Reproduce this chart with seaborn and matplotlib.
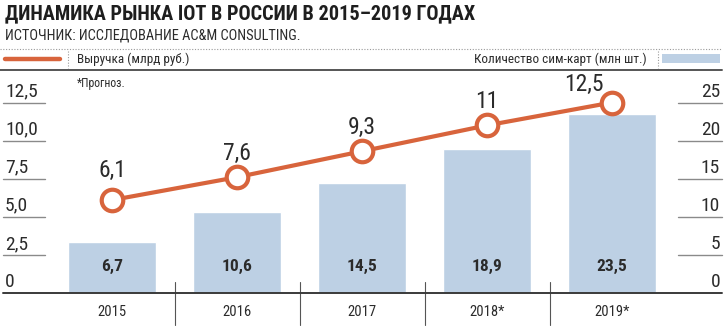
import matplotlib
matplotlib.use("Agg")
import matplotlib.pyplot as plt
import matplotlib.font_manager as fm
import seaborn as sns
import numpy as np
from matplotlib.lines import Line2D
from matplotlib.patches import Rectangle

sns.set_theme(style="white")

names = {f.name for f in fm.fontManager.ttflist}
fams = [f for f in ["Liberation Sans Narrow", "DejaVu Sans Condensed", "Roboto Condensed", "Liberation Sans", "DejaVu Sans"] if f in names]
plt.rcParams['font.family'] = fams

# ---- data ----
years = ["2015", "2016", "2017", "2018*", "2019*"]
revenue = [6.1, 7.6, 9.3, 11, 12.5]
revenue_labels = ["6,1", "7,6", "9,3", "11", "12,5"]
sims = [6.7, 10.6, 14.5, 18.9, 23.5]
sim_labels = ["6,7", "10,6", "14,5", "18,9", "23,5"]
left_ticks = [0, 2.5, 5.0, 7.5, 10.0, 12.5]
left_tick_labels = ["0", "2,5", "5,0", "7,5", "10,0", "12,5"]
right_ticks = [0, 5, 10, 15, 20, 25]
right_tick_labels = ["0", "5", "10", "15", "20", "25"]
title = "ДИНАМИКА РЫНКА IOT В РОССИИ В 2015–2019 ГОДАХ"
subtitle = "ИСТОЧНИК: ИССЛЕДОВАНИЕ AC&M CONSULTING."
legend_line = "Выручка (млрд руб.)"
legend_bar = "Количество сим-карт (млн шт.)"
note = "*Прогноз."

ORANGE = "#d8643c"
BLUE = "#bdd0e4"
TXT = "#2b2b2b"
GRID = "#8a8a8a"

W, H = 728, 329
fig = plt.figure(figsize=(W / 100, H / 100), dpi=100)

def fx(px):
    return px / W

def fy(py):
    return 1 - py / H

# axes: x from 49.5 to 674.5 px, y from 293 (0) to 70 (top)
left_px, right_px = 49.5, 674.5
base_px, top_px = 293.0, 70.0
unit_px = 190.5 / 12.5  # px per revenue unit
ax = fig.add_axes([fx(left_px), fy(base_px), fx(right_px - left_px), (base_px - top_px) / H])
ymax_rev = (base_px - top_px) / unit_px
ymax_sim = ymax_rev * 2

sns.barplot(x=years, y=sims, ax=ax, color=BLUE, saturation=1, width=0.7, zorder=2)
ax.set_ylim(0, ymax_sim)
ax.set_xlim(-0.5, 4.5)

ax2 = ax.twinx()
sns.pointplot(x=years, y=revenue, ax=ax2, color=ORANGE, markers="o",
              markersize=15.5, markerfacecolor="white", markeredgecolor=ORANGE,
              markeredgewidth=3, linewidth=3, zorder=5)
for l in ax2.lines:
    l.set_clip_on(False)
ax2.set_ylim(0, ymax_rev)
ax2.set_xlim(-0.5, 4.5)

for a in (ax, ax2):
    for s in a.spines.values():
        s.set_visible(False)
    a.set_xticks([])
    a.set_yticks([])
    a.set_xlabel("")
    a.set_ylabel("")
    a.patch.set_alpha(0)
    a.grid(False)

# line value labels
offsets = [(0, 21), (0, 17), (0, 17), (0, 17), (-20, 13)]
for i, (v, lab) in enumerate(zip(revenue, revenue_labels)):
    ax2.annotate(lab, (i, v), xytext=offsets[i], textcoords="offset points",
                 ha="center", va="center", fontsize=17, color=TXT, zorder=6)

# bar value labels
btr = ax.get_xaxis_transform()
for i, lab in enumerate(sim_labels):
    ax.text(i, (base_px - 266) / (base_px - top_px), lab, transform=btr, ha="center", va="center",
            fontsize=12.5, fontweight="bold", color=TXT)

# year labels and separators
for i, y in enumerate(years):
    ax.text(i, (base_px - 312) / (base_px - top_px), y, transform=btr, ha="center", va="center",
            fontsize=10.5, color=TXT)
for i in range(len(years) - 1):
    ax.plot([i + 0.5, i + 0.5], [(base_px - 282) / (base_px - top_px), (base_px - 325) / (base_px - top_px)],
            transform=btr, color="#555555", lw=0.8, clip_on=False)

# baseline
ax.plot([fx(3), fx(722)], [fy(base_px)] * 2, transform=fig.transFigure, color="#3a3a3a", lw=1.4, clip_on=False)

# left tick labels
ytr = ax2.get_yaxis_transform()
def axx(px):
    return (px - left_px) / (right_px - left_px)
for t, lab in zip(left_ticks, left_tick_labels):
    ax2.text(axx(5), t + 2 / unit_px, lab, transform=ytr, ha="left", va="bottom",
             fontsize=14, color=TXT)
    if t > 0:
        ax2.plot([axx(3), axx(45)], [t, t], transform=ytr, color=GRID, lw=1, clip_on=False)
ytr1 = ax.get_yaxis_transform()
for t, lab in zip(right_ticks, right_tick_labels):
    ax.text(axx(720), t + 4 / unit_px, lab, transform=ytr1, ha="right", va="bottom",
            fontsize=14, color=TXT)
    if t > 0:
        ax.plot([axx(678), axx(722)], [t, t], transform=ytr1, color=GRID, lw=1, clip_on=False)

# title and header
fig.text(fx(5), fy(14), title, ha="left", va="center", fontsize=14.6, fontweight="bold", color="#1e1e1e")
fig.text(fx(5), fy(36), subtitle, ha="left", va="center", fontsize=10.4, color=TXT)

fig.add_artist(Line2D([0, fx(722)], [fy(49), fy(49)], color="#9a9a9a", lw=0.8, linestyle=(0, (1, 1.5))))
fig.add_artist(Line2D([0, fx(722)], [fy(70), fy(70)], color="#555555", lw=1.4))
fig.add_artist(Line2D([fx(5), fx(60)], [fy(59), fy(59)], color=ORANGE, lw=3.2))
fig.add_artist(Line2D([fx(68), fx(68)], [fy(51), fy(68)], color="#9a9a9a", lw=0.8, linestyle=(0, (1, 1.5))))
fig.text(fx(77), fy(59), legend_line, ha="left", va="center", fontsize=9.5, color=TXT)
fig.text(fx(647), fy(59), legend_bar, ha="right", va="center", fontsize=9.5, color=TXT)
fig.add_artist(Line2D([fx(658), fx(658)], [fy(51), fy(68)], color="#9a9a9a", lw=0.8, linestyle=(0, (1, 1.5))))
fig.add_artist(Rectangle((fx(662), fy(63)), fx(58), 9 / H, facecolor=BLUE, edgecolor="none"))
fig.text(fx(77), fy(84), note, ha="left", va="center", fontsize=8.5, color=TXT)

fig.savefig("out.png", dpi=100)
